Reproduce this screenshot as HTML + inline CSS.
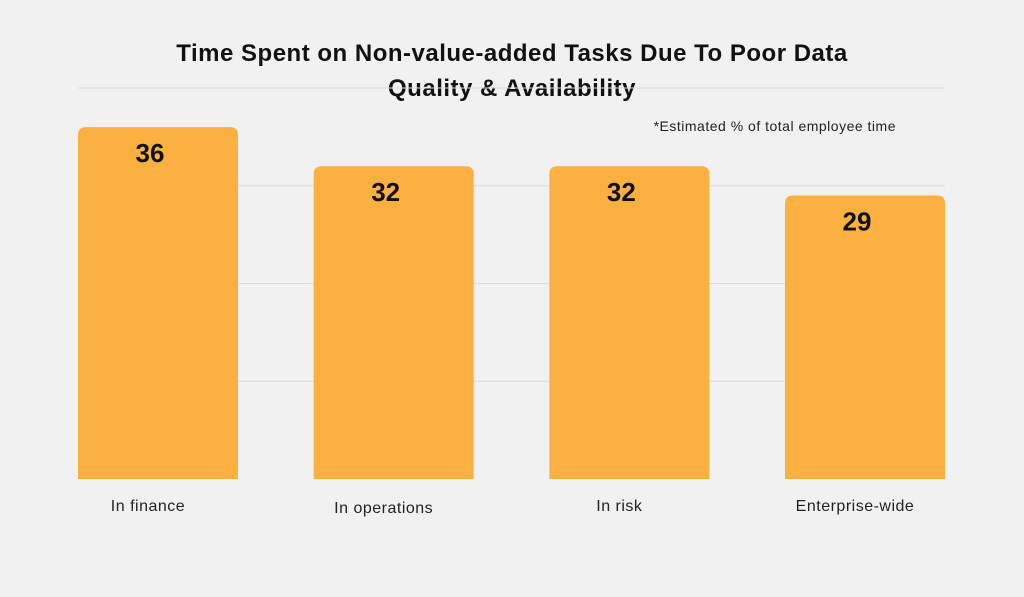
<!DOCTYPE html>
<html><head><meta charset="utf-8"><style>
html,body{margin:0;padding:0;background:#f1f1f1;}
svg{display:block;font-family:"Liberation Sans",sans-serif;}
</style></head><body>
<svg id="chart" width="1024" height="597" viewBox="0 0 1024 597">
<rect width="1024" height="597" fill="#f1f1f1"/>
<text x="512" y="61" text-anchor="middle" font-size="24" font-weight="bold" fill="#111" letter-spacing="0.5">Time Spent on Non-value-added Tasks Due To Poor Data</text>
<text x="512" y="96" text-anchor="middle" font-size="24" font-weight="bold" fill="#111" letter-spacing="0.5">Quality &amp; Availability</text>
<g id="grid"></g>
<g id="bars"></g>
<text x="896" y="131" text-anchor="end" font-size="14" fill="#222" letter-spacing="0.5">*Estimated % of total employee time</text>
</svg>
<script>
const categories = ["In finance","In operations","In risk","Enterprise-wide"];
const values = [36,32,32,29];
const gridTicks = [0,10,20,30,40];
const NS="http://www.w3.org/2000/svg";
const y0=479, yTop=88, vMax=40;
function y(v){return y0-(v/vMax)*(y0-yTop);}
function x(i){return 78+i*235.67;}
const bw=160;
const grid=document.getElementById('grid'), bars=document.getElementById('bars');
gridTicks.forEach(t=>{
  if(t===0) return;
  const l=document.createElementNS(NS,'line');
  
  
  l.setAttribute('x1',78);l.setAttribute('x2',945);
  l.setAttribute('y1',y(t));l.setAttribute('y2',y(t));
  l.setAttribute('stroke','#dcdcdc');l.setAttribute('stroke-width','1');
  grid.appendChild(l);
});
const labelDy=[0,2,0,0];
values.forEach((v,i)=>{
  const x1=x(i), yt=y(v), r=8;
  const p=document.createElementNS(NS,'path');
  
  
  p.setAttribute('d',`M${x1},${y0} V${yt+r} Q${x1},${yt} ${x1+r},${yt} H${x1+bw-r} Q${x1+bw},${yt} ${x1+bw},${yt+r} V${y0} Z`);
  p.setAttribute('fill','#fbb03f');
  bars.appendChild(p);
  const t=document.createElementNS(NS,'text');
  
  
  t.setAttribute('x',x1+bw/2-8);t.setAttribute('y',yt+35);
  t.setAttribute('text-anchor','middle');t.setAttribute('font-size','26');t.setAttribute('font-weight','bold');t.setAttribute('fill','#111');
  t.textContent=v;
  bars.appendChild(t);
  const c=document.createElementNS(NS,'text');
  
  
  c.setAttribute('x',x1+bw/2-10);c.setAttribute('y',511+labelDy[i]);
  c.setAttribute('text-anchor','middle');c.setAttribute('font-size','16');c.setAttribute('fill','#222');c.setAttribute('letter-spacing','0.5');
  c.textContent=categories[i];
  bars.appendChild(c);
});
</script>
</body></html>
